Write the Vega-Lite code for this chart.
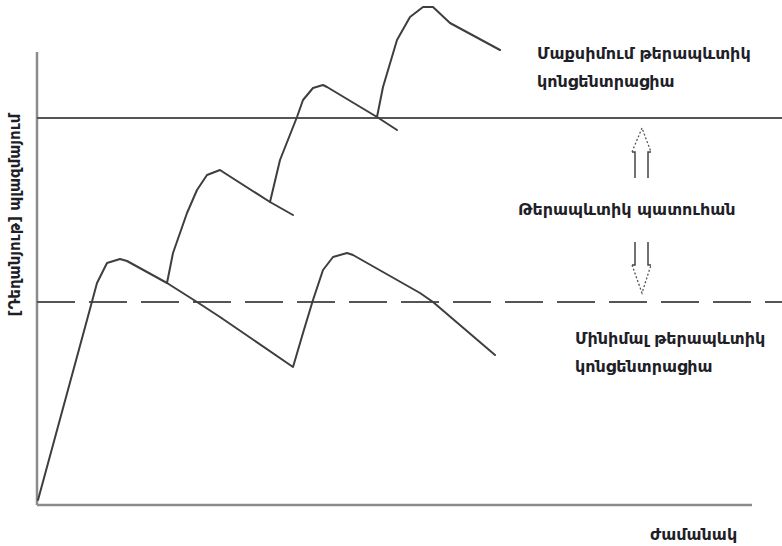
{
  "$schema": "https://vega.github.io/schema/vega-lite/v6.json",
  "width": 745,
  "height": 505,
  "autosize": {"type": "none"},
  "padding": {"left": 37, "top": 0, "right": 0, "bottom": 41},
  "background": "white",
  "config": {"view": {"stroke": null}},
  "datasets": {
    "frame": [
      {"x": 0, "x2": 0, "y": 0, "y2": 453},
      {"x": 0, "x2": 715, "y": 0, "y2": 0}
    ],
    "levels": [
      {"k": "max", "x": 0, "x2": 745, "y": 387},
      {"k": "min", "x": 0, "x2": 745, "y": 203}
    ],
    "curves": [
      {"s": "a", "o": 1, "x": 1, "y": 5},
      {"s": "a", "o": 2, "x": 50, "y": 185},
      {"s": "a", "o": 3, "x": 60, "y": 222},
      {"s": "a", "o": 4, "x": 70, "y": 242},
      {"s": "a", "o": 5, "x": 83, "y": 246},
      {"s": "a", "o": 6, "x": 90, "y": 244},
      {"s": "a", "o": 7, "x": 130, "y": 222},
      {"s": "a", "o": 8, "x": 160, "y": 203},
      {"s": "a", "o": 9, "x": 183, "y": 188},
      {"s": "a", "o": 10, "x": 256, "y": 138},
      {"s": "a", "o": 11, "x": 266, "y": 172},
      {"s": "a", "o": 12, "x": 276, "y": 205},
      {"s": "a", "o": 13, "x": 286, "y": 235},
      {"s": "a", "o": 14, "x": 296, "y": 248},
      {"s": "a", "o": 15, "x": 310, "y": 252},
      {"s": "a", "o": 16, "x": 316, "y": 250},
      {"s": "a", "o": 17, "x": 383, "y": 212},
      {"s": "a", "o": 18, "x": 396, "y": 203},
      {"s": "a", "o": 19, "x": 458, "y": 150},
      {"s": "b", "o": 1, "x": 130, "y": 222},
      {"s": "b", "o": 2, "x": 136, "y": 252},
      {"s": "b", "o": 3, "x": 150, "y": 292},
      {"s": "b", "o": 4, "x": 160, "y": 315},
      {"s": "b", "o": 5, "x": 170, "y": 330},
      {"s": "b", "o": 6, "x": 183, "y": 335},
      {"s": "b", "o": 7, "x": 186, "y": 333},
      {"s": "b", "o": 8, "x": 233, "y": 303},
      {"s": "b", "o": 9, "x": 243, "y": 345},
      {"s": "b", "o": 10, "x": 260, "y": 388},
      {"s": "b", "o": 11, "x": 266, "y": 405},
      {"s": "b", "o": 12, "x": 276, "y": 417},
      {"s": "b", "o": 13, "x": 286, "y": 420},
      {"s": "b", "o": 14, "x": 290, "y": 418},
      {"s": "b", "o": 15, "x": 340, "y": 388},
      {"s": "b", "o": 16, "x": 346, "y": 418},
      {"s": "b", "o": 17, "x": 360, "y": 465},
      {"s": "b", "o": 18, "x": 373, "y": 488},
      {"s": "b", "o": 19, "x": 386, "y": 498},
      {"s": "b", "o": 20, "x": 396, "y": 498},
      {"s": "b", "o": 21, "x": 413, "y": 482},
      {"s": "b", "o": 22, "x": 463, "y": 455},
      {"s": "c", "o": 1, "x": 233, "y": 303},
      {"s": "c", "o": 2, "x": 256, "y": 290},
      {"s": "d", "o": 1, "x": 340, "y": 388},
      {"s": "d", "o": 2, "x": 360, "y": 375}
    ],
    "shafts": [
      {"s": "ul", "o": 1, "x": 595, "y": 353},
      {"s": "ul", "o": 2, "x": 598, "y": 353},
      {"s": "ul", "o": 3, "x": 598, "y": 327},
      {"s": "ur", "o": 1, "x": 614, "y": 353},
      {"s": "ur", "o": 2, "x": 611, "y": 353},
      {"s": "ur", "o": 3, "x": 611, "y": 327},
      {"s": "dl", "o": 1, "x": 598, "y": 263},
      {"s": "dl", "o": 2, "x": 598, "y": 240},
      {"s": "dl", "o": 3, "x": 595, "y": 240},
      {"s": "dr", "o": 1, "x": 611, "y": 263},
      {"s": "dr", "o": 2, "x": 611, "y": 240},
      {"s": "dr", "o": 3, "x": 614, "y": 240}
    ],
    "heads": [
      {"s": "u", "o": 1, "x": 595, "y": 353},
      {"s": "u", "o": 2, "x": 605, "y": 377},
      {"s": "u", "o": 3, "x": 614, "y": 353},
      {"s": "d", "o": 1, "x": 595, "y": 240},
      {"s": "d", "o": 2, "x": 605, "y": 212},
      {"s": "d", "o": 3, "x": 614, "y": 240}
    ],
    "labels": [
      {"t": "Մաքսիմում թերապևտիկ", "x": 500, "y": 451},
      {"t": "կոնցենտրացիա", "x": 500, "y": 423},
      {"t": "Թերապևտիկ պատուհան", "x": 481, "y": 295},
      {"t": "Մինիմալ թերապևտիկ", "x": 538, "y": 166},
      {"t": "կոնցենտրացիա", "x": 538, "y": 138},
      {"t": "ժամանակ", "x": 613, "y": -30}
    ],
    "ylabel": [
      {"t": "[Դեղանյութ] պլազմայում", "x": -22, "y": 290}
    ]
  },
  "layer": [
    {
      "data": {"name": "frame"},
      "mark": {"type": "rule", "color": "#8c8c8c", "strokeWidth": 2.5},
      "encoding": {
        "x": {"field": "x", "type": "quantitative", "scale": {"domain": [0, 745], "nice": false, "zero": false}, "axis": null},
        "x2": {"field": "x2"},
        "y": {"field": "y", "type": "quantitative", "scale": {"domain": [0, 505], "nice": false, "zero": false}, "axis": null},
        "y2": {"field": "y2"}
      }
    },
    {
      "data": {"name": "levels"},
      "transform": [{"filter": "datum.k === 'max'"}],
      "mark": {"type": "rule", "color": "#555555", "strokeWidth": 2},
      "encoding": {
        "x": {"field": "x", "type": "quantitative", "scale": {"domain": [0, 745], "nice": false, "zero": false}, "axis": null},
        "x2": {"field": "x2"},
        "y": {"field": "y", "type": "quantitative", "scale": {"domain": [0, 505], "nice": false, "zero": false}, "axis": null}
      }
    },
    {
      "data": {"name": "levels"},
      "transform": [{"filter": "datum.k === 'min'"}],
      "mark": {"type": "rule", "color": "#555555", "strokeWidth": 2, "strokeDash": [38, 14]},
      "encoding": {
        "x": {"field": "x", "type": "quantitative", "scale": {"domain": [0, 745], "nice": false, "zero": false}, "axis": null},
        "x2": {"field": "x2"},
        "y": {"field": "y", "type": "quantitative", "scale": {"domain": [0, 505], "nice": false, "zero": false}, "axis": null}
      }
    },
    {
      "data": {"name": "curves"},
      "mark": {"type": "line", "color": "#3e3e3e", "strokeWidth": 2, "strokeJoin": "round", "strokeCap": "round"},
      "encoding": {
        "x": {"field": "x", "type": "quantitative", "scale": {"domain": [0, 745], "nice": false, "zero": false}, "axis": null},
        "y": {"field": "y", "type": "quantitative", "scale": {"domain": [0, 505], "nice": false, "zero": false}, "axis": null},
        "detail": {"field": "s"},
        "order": {"field": "o"}
      }
    },
    {
      "data": {"name": "shafts"},
      "mark": {"type": "line", "color": "#444444", "strokeWidth": 1.5},
      "encoding": {
        "x": {"field": "x", "type": "quantitative", "scale": {"domain": [0, 745], "nice": false, "zero": false}, "axis": null},
        "y": {"field": "y", "type": "quantitative", "scale": {"domain": [0, 505], "nice": false, "zero": false}, "axis": null},
        "detail": {"field": "s"},
        "order": {"field": "o"}
      }
    },
    {
      "data": {"name": "heads"},
      "mark": {"type": "line", "color": "#555555", "strokeWidth": 1.3, "strokeDash": [2, 2]},
      "encoding": {
        "x": {"field": "x", "type": "quantitative", "scale": {"domain": [0, 745], "nice": false, "zero": false}, "axis": null},
        "y": {"field": "y", "type": "quantitative", "scale": {"domain": [0, 505], "nice": false, "zero": false}, "axis": null},
        "detail": {"field": "s"},
        "order": {"field": "o"}
      }
    },
    {
      "data": {"name": "labels"},
      "mark": {"type": "text", "font": "DejaVu Sans", "fontSize": 16, "fontWeight": "bold", "color": "#1f1f2a", "baseline": "middle", "align": "left"},
      "encoding": {
        "x": {"field": "x", "type": "quantitative", "scale": {"domain": [0, 745], "nice": false, "zero": false}, "axis": null},
        "y": {"field": "y", "type": "quantitative", "scale": {"domain": [0, 505], "nice": false, "zero": false}, "axis": null},
        "text": {"field": "t"}
      }
    },
    {
      "data": {"name": "ylabel"},
      "mark": {"type": "text", "font": "DejaVu Sans", "fontSize": 15, "fontWeight": "bold", "color": "#1f1f2a", "baseline": "middle", "align": "center", "angle": 270},
      "encoding": {
        "x": {"field": "x", "type": "quantitative", "scale": {"domain": [0, 745], "nice": false, "zero": false}, "axis": null},
        "y": {"field": "y", "type": "quantitative", "scale": {"domain": [0, 505], "nice": false, "zero": false}, "axis": null},
        "text": {"field": "t"}
      }
    }
  ]
}
